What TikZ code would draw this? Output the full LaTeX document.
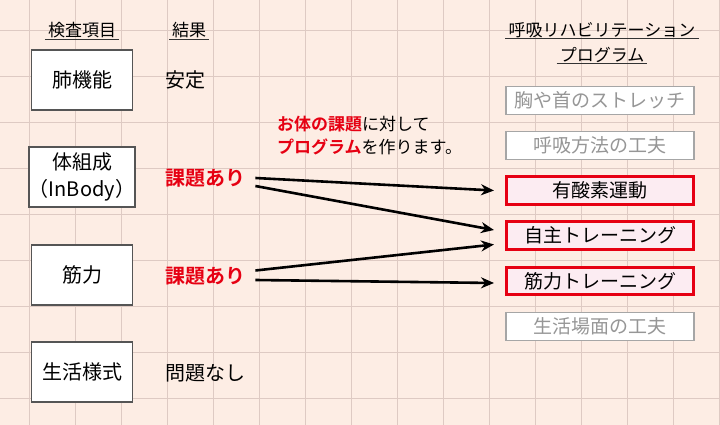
\documentclass[tikz,border=0pt]{standalone}
\usepackage{fontspec}
\setmainfont{Noto Sans CJK JP}[BoldFont={Noto Sans CJK JP Bold}]
\usetikzlibrary{arrows.meta}
\definecolor{PaperClr}{RGB}{253,237,228}
\definecolor{GridClr}{RGB}{222,202,195}
\definecolor{IssueClr}{RGB}{230,0,18}
\definecolor{PickClr}{RGB}{252,236,242}
\definecolor{SkipClr}{RGB}{150,150,150}
\definecolor{BoxClr}{RGB}{85,85,85}

\begin{document}
\begin{tikzpicture}[x=1pt,y=-1pt,
  gridline/.style={GridClr,line width=0.8pt},
  headtext/.style={inner xsep=3pt,inner ysep=1pt,font=\fontsize{17}{20}\selectfont},
  uline/.style={line width=1pt,black!80},
  itembox/.style={draw=BoxClr,line width=1.3pt,fill=white,minimum width=101pt,minimum height=60pt,inner sep=0pt,align=center,font=\fontsize{20}{27}\selectfont},
  restext/.style={anchor=west,inner sep=0pt,font=\fontsize{20}{24}\selectfont},
  issue/.style={restext,text=IssueClr,font=\fontsize{20}{24}\selectfont\bfseries},
  notetext/.style={anchor=west,inner sep=0pt,align=left,font=\fontsize{17}{23}\selectfont},
  progbox/.style={minimum width=188pt,minimum height=28pt,inner sep=0pt,font=\fontsize{19}{22}\selectfont},
  skipbox/.style={progbox,draw=SkipClr!85,line width=1.6pt,fill=white,text=SkipClr},
  pickbox/.style={progbox,draw=IssueClr,line width=3pt,fill=PickClr,minimum width=187pt,minimum height=27.5pt},
  issuearrow/.style={line width=2.6pt,-{Stealth[length=13pt,width=11pt]}}]

\useasboundingbox (0,0) rectangle (720,425);
\fill[PaperClr] (0,0) rectangle (720,425);
\foreach \i in {0,...,15} \draw[gridline] (29.5+46*\i,0) -- (29.5+46*\i,425);
\foreach \j in {0,...,8} \draw[gridline] (0,30+46*\j) -- (720,30+46*\j);

% headings
\node[headtext] (hitem) at (82,30) {検査項目};
\node[headtext] (hres) at (189,30) {結果};
\node[headtext] (hprogA) at (602,30) {呼吸リハビリテーション};
\node[headtext] (hprogB) at (602,55) {プログラム};
\foreach \h in {hitem,hres,hprogA,hprogB}
  \draw[uline] (\h.south west) -- (\h.south east);

% test items
\node[itembox] (lung) at (82,80) {肺機能};
\node[itembox] (body) at (82,177) {体組成\\（InBody）};
\node[itembox] (power) at (82,275) {筋力};
\node[itembox] (life) at (82,372) {生活様式};

% results
\node[restext] (resA) at (165,80) {安定};
\node[issue] (issA) at (165,178) {課題あり};
\node[issue] (issB) at (165,276) {課題あり};
\node[restext] (resB) at (165,373) {問題なし};

\node[notetext] (note) at (277,136) {\textcolor{IssueClr}{\bfseries お体の課題}に対して\\\textcolor{IssueClr}{\bfseries プログラム}を作ります。};

% programs
\node[skipbox] (stretch) at (600,100.5) {胸や首のストレッチ};
\node[skipbox] (breath) at (600,145.5) {呼吸方法の工夫};
\node[pickbox] (aerobic) at (600,190.5) {有酸素運動};
\node[pickbox] (selftrain) at (600,235.5) {自主トレーニング};
\node[pickbox] (muscle) at (600,281) {筋力トレーニング};
\node[skipbox] (daily) at (600,326.5) {生活場面の工夫};

\draw[issuearrow] ([xshift=10pt]issA.east) -- ([xshift=-11pt]aerobic.west);
\draw[issuearrow] ([xshift=10pt,yshift=-8pt]issA.east) -- ([xshift=-11pt,yshift=5.5pt]selftrain.west);
\draw[issuearrow] ([xshift=10pt,yshift=5.5pt]issB.east) -- ([xshift=-11pt,yshift=-9pt]selftrain.west);
\draw[issuearrow] ([xshift=10pt,yshift=-4pt]issB.east) -- ([xshift=-11pt,yshift=-2pt]muscle.west);

\end{tikzpicture}
\end{document}
